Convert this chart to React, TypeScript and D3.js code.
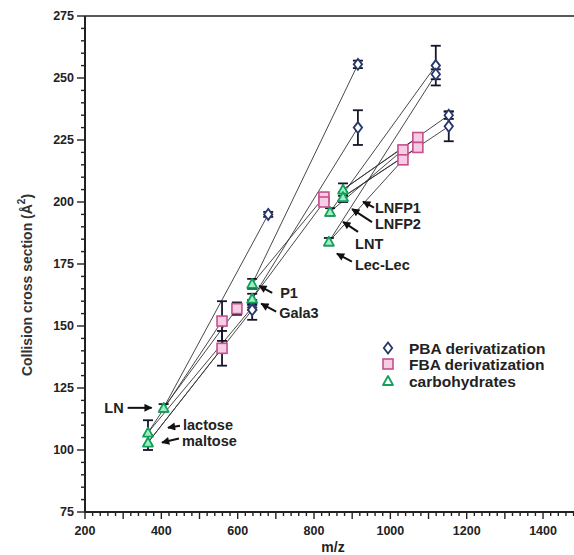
import React from "react";
import * as d3 from "d3";

// ---------- data ----------
const carbNames = ["lactose", "maltose", "LN", "P1", "Gala3", "LNT", "Lec-Lec", "LNFP1", "LNFP2"];
const carbMz = [365, 365, 406, 638, 638, 842, 839, 876, 876];
const carbCcs = [107, 103, 117, 167, 161, 196, 184, 205, 202];
const carbErr = [5, 3, 1.5, 2, 2, 1.5, 1.5, 2.5, 2];

const pbaMz = [638, 638, 680, 915, 915, 1119, 1119, 1153, 1153];
const pbaCcs = [157.5, 156.5, 195, 255.5, 230, 255, 251.5, 235, 230.5];
const pbaErr = [1, 4, 1, 1.5, 7, 8, 2, 1.5, 6];

const fbaMz = [559, 559, 598, 826, 826, 1033, 1033, 1072, 1072];
const fbaCcs = [152, 141, 157, 202, 200, 221, 217, 226, 222];
const fbaErr = [8, 7, 2.5, 1.5, 1.5, 1.5, 1.5, 1.5, 1.5];

const xTickLabels = [200, 400, 600, 800, 1000, 1200, 1400];
const yTickLabels = [75, 100, 125, 150, 175, 200, 225, 250, 275];

const legendLabels = ["PBA derivatization", "FBA derivatization", "carbohydrates"];

// annotation layout (pixel offsets relative to each carbohydrate marker)
const annotations: Record<string, { tip: [number, number]; tail: [number, number]; text: [number, number]; anchor: string }> = {
  LN: { tip: [-12, 0], tail: [-36, 0], text: [-40, 0], anchor: "end" },
  lactose: { tip: [20, -5], tail: [32, -7], text: [35, -8], anchor: "start" },
  maltose: { tip: [14, 0], tail: [31, -4], text: [34, -2], anchor: "start" },
  P1: { tip: [7, 2], tail: [20, 9], text: [28, 9], anchor: "start" },
  Gala3: { tip: [9, 5], tail: [24, 13], text: [27, 14], anchor: "start" },
  LNFP1: { tip: [20, 12], tail: [31, 18], text: [32, 18], anchor: "start" },
  LNFP2: { tip: [9, 12], tail: [29, 25], text: [32, 27], anchor: "start" },
  LNT: { tip: [13, 10], tail: [28, 20], text: [25, 32], anchor: "start" },
  "Lec-Lec": { tip: [8, 12], tail: [23, 20], text: [26, 23], anchor: "start" },
};

// ---------- styles ----------
const W = 574;
const H = 555;
const FONT = "'Liberation Sans', Arial, Helvetica, sans-serif";
const PBA_STROKE = "#27386e";
const FBA_STROKE = "#c4508e";
const FBA_FILL = "#f6cde2";
const CARB_STROKE = "#12a05a";
const CARB_FILL = "#9cefc2";
const ERR = "#15152a";
const TXT = "#222";

const x = d3.scaleLinear().domain([200, 1500]).range([85, 85 + 1300 * 0.3817]);
const y = d3.scaleLinear().domain([75, 275]).range([512, 16]);

function Diamond({ cx, cy, s = 5 }: { cx: number; cy: number; s?: number }) {
  return (
    <path
      d={`M${cx},${cy - s - 0.5}L${cx + s - 0.8},${cy}L${cx},${cy + s + 0.5}L${cx - s + 0.8},${cy}Z`}
      fill="#fff"
      stroke={PBA_STROKE}
      strokeWidth={1.8}
    />
  );
}
function Square({ cx, cy, s = 5 }: { cx: number; cy: number; s?: number }) {
  return <rect x={cx - s} y={cy - s} width={2 * s} height={2 * s} fill={FBA_FILL} stroke={FBA_STROKE} strokeWidth={1.6} />;
}
function Tri({ cx, cy, s = 5, fill = CARB_FILL }: { cx: number; cy: number; s?: number; fill?: string }) {
  return (
    <path
      d={`M${cx},${cy - s}L${cx + s},${cy + s * 0.8}L${cx - s},${cy + s * 0.8}Z`}
      fill={fill}
      stroke={CARB_STROKE}
      strokeWidth={1.8}
      strokeLinejoin="round"
    />
  );
}
function ErrBar({ mz, v, e }: { mz: number; v: number; e: number }) {
  const cx = x(mz);
  const y1 = y(v + e);
  const y2 = y(v - e);
  return (
    <g stroke={ERR} strokeWidth={1.8}>
      <line x1={cx} x2={cx} y1={y1} y2={y2} />
      <line x1={cx - 5} x2={cx + 5} y1={y1} y2={y1} />
      <line x1={cx - 5} x2={cx + 5} y1={y2} y2={y2} />
    </g>
  );
}

export default function App() {
  const xMinor = d3.range(200, 1501, 20);
  const yMinor = d3.range(75, 276, 5);

  return (
    <div style={{ position: "absolute", left: 0, top: 0, width: W, height: H, background: "#fff" }}>
      <svg width={W} height={H} style={{ display: "block" }} fontFamily={FONT}>
        <defs>
          <marker id="ah" viewBox="0 0 10 10" refX="9" refY="5" markerWidth="9" markerHeight="8" orient="auto" markerUnits="userSpaceOnUse">
            <path d="M0,0L10,5L0,10Z" fill="#111" />
          </marker>
        </defs>
        <rect width={W} height={H} fill="#fff" />

        {/* connecting lines */}
        <g stroke="#333" strokeWidth={0.9}>
          {carbNames.map((n, i) => (
            <g key={n}>
              <line x1={x(carbMz[i])} y1={y(carbCcs[i])} x2={x(pbaMz[i])} y2={y(pbaCcs[i])} />
              <line x1={x(carbMz[i])} y1={y(carbCcs[i])} x2={x(fbaMz[i])} y2={y(fbaCcs[i])} />
            </g>
          ))}
        </g>

        {/* error bars */}
        {fbaMz.map((m, i) => <ErrBar key={"fe" + i} mz={m} v={fbaCcs[i]} e={fbaErr[i]} />)}
        {pbaMz.map((m, i) => <ErrBar key={"pe" + i} mz={m} v={pbaCcs[i]} e={pbaErr[i]} />)}
        {carbMz.map((m, i) => <ErrBar key={"ce" + i} mz={m} v={carbCcs[i]} e={carbErr[i]} />)}

        {/* markers */}
        {fbaMz.map((m, i) => <Square key={"f" + i} cx={x(m)} cy={y(fbaCcs[i])} />)}
        {pbaMz.map((m, i) => <Diamond key={"p" + i} cx={x(m)} cy={y(pbaCcs[i])} />)}
        {carbMz.map((m, i) => <Tri key={"c" + i} cx={x(m)} cy={y(carbCcs[i])} />)}

        {/* annotations */}
        {carbNames.map((n, i) => {
          const a = annotations[n];
          const px = x(carbMz[i]);
          const py = y(carbCcs[i]);
          return (
            <g key={"a" + n}>
              <line
                x1={px + a.tail[0]}
                y1={py + a.tail[1]}
                x2={px + a.tip[0]}
                y2={py + a.tip[1]}
                stroke="#111"
                strokeWidth={2}
                markerEnd="url(#ah)"
              />
              <text
                x={px + a.text[0]}
                y={py + a.text[1]}
                textAnchor={a.anchor as any}
                dominantBaseline="central"
                fontSize={14.5}
                fontWeight={700}
                fill={TXT}
              >
                {n}
              </text>
            </g>
          );
        })}

        {/* axes */}
        <g stroke="#222">
          <line x1={x(200)} x2={W} y1={y(75)} y2={y(75)} strokeWidth={2} />
          <line x1={x(200)} x2={W} y1={y(275)} y2={y(275)} strokeWidth={1.5} />
          <line x1={x(200)} x2={x(200)} y1={y(75)} y2={y(275)} strokeWidth={2} />
          {xMinor.map((v) => (
            <line key={"xm" + v} x1={x(v)} x2={x(v)} y1={y(75)} y2={y(75) + (v % 100 === 0 ? 7 : 4)} strokeWidth={1.4} />
          ))}
          {yMinor.map((v) => (
            <line key={"ym" + v} x1={x(200)} x2={x(200) - (v % 25 === 0 ? 8 : 4)} y1={y(v)} y2={y(v)} strokeWidth={1.4} />
          ))}
        </g>
        {xTickLabels.map((v) => (
          <text key={"xl" + v} x={x(v)} y={y(75) + 19} textAnchor="middle" dominantBaseline="central" fontSize={12.5} fontWeight={700} fill={TXT}>
            {v}
          </text>
        ))}
        {yTickLabels.map((v) => (
          <text key={"yl" + v} x={x(200) - 11} y={y(v)} textAnchor="end" dominantBaseline="central" fontSize={12.5} fontWeight={700} fill={TXT}>
            {v}
          </text>
        ))}
        <text x={333} y={547} textAnchor="middle" dominantBaseline="central" fontSize={14} fontWeight={700} fill={TXT}>
          m/z
        </text>
        <text
          transform={`translate(27,${285}) rotate(-90)`}
          textAnchor="middle"
          dominantBaseline="central"
          fontSize={14}
          fontWeight={700}
          fill="#333"
        >
          Collision cross section (Å<tspan baselineShift="super" fontSize={10}>2</tspan>)
        </text>

        {/* legend */}
        <Diamond cx={388} cy={348} s={5} />
        <Square cx={388} cy={364} s={5} />
        <Tri cx={388} cy={381} s={5} fill="#fff" />
        {legendLabels.map((l, i) => (
          <text key={l} x={409} y={348 + i * 16.5} dominantBaseline="central" fontSize={15.5} fontWeight={700} fill={TXT}>
            {l}
          </text>
        ))}
      </svg>
    </div>
  );
}
